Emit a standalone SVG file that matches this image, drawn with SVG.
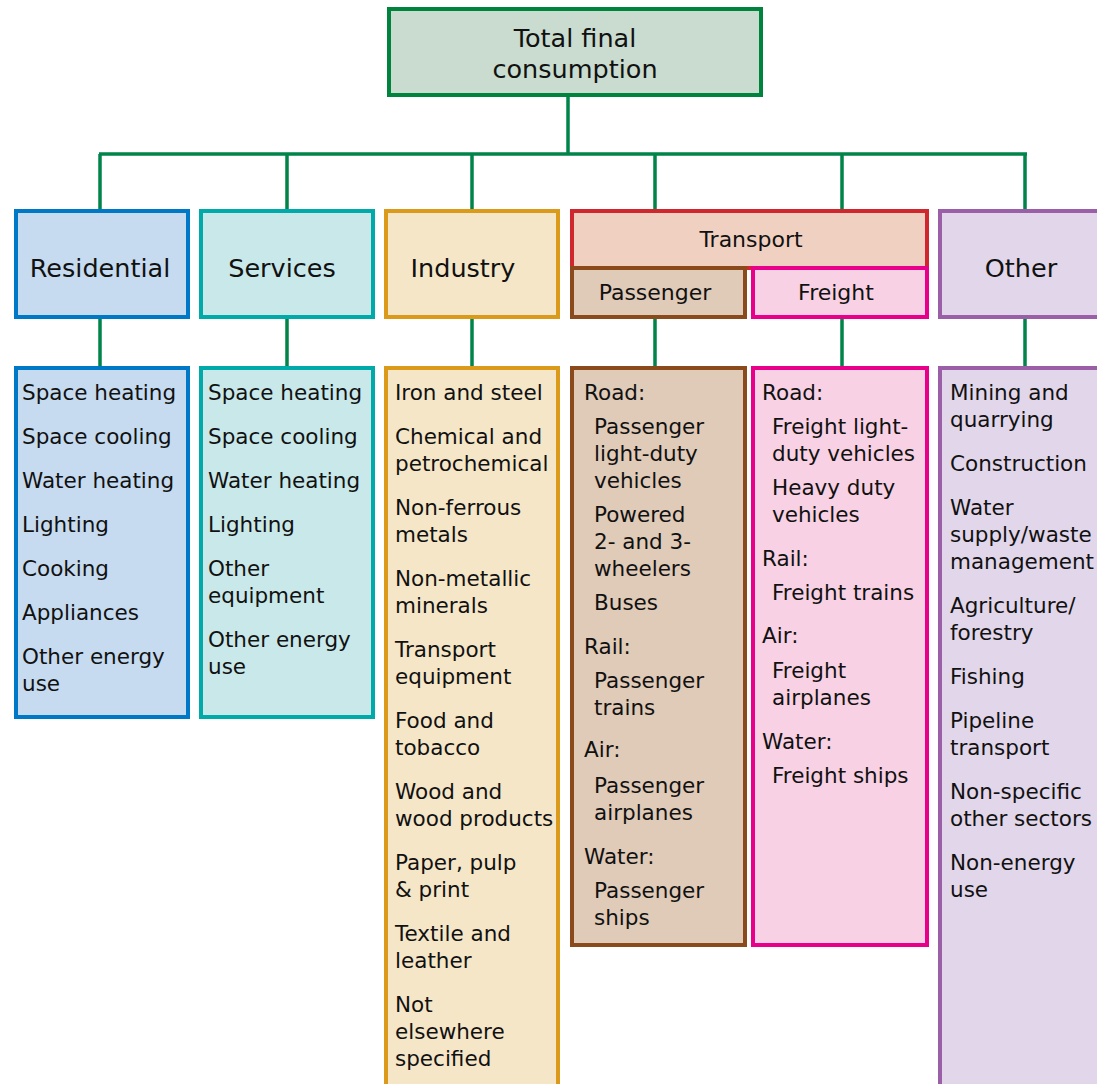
<svg xmlns="http://www.w3.org/2000/svg" width="1097" height="1084" viewBox="0 0 1097 1084">
<style>
text{font-family:"DejaVu Sans","Noto Sans",sans-serif;fill:#111;}
.t{font-size:25.5px;text-anchor:middle;}
.s{font-size:22px;text-anchor:middle;}
.i{font-size:21.5px;}
.box{stroke-width:4;}
.conn{stroke:#00844a;stroke-width:3.5;fill:none;}
</style>
<rect width="1097" height="1084" fill="#ffffff"/>
<g id="connectors">
<path class="conn" d="M568 97V154M99 154H1027M100 154V210M287 154V210M472 154V210M655 154V210M842 154V210M1025 154V210"/>
<path class="conn" d="M100 319V367M287 319V367M472 319V367M655 319V367M842 319V367M1025 319V367"/>
</g>
<g id="total">
<rect class="box" x="389" y="9" width="372" height="86" fill="#c9dccf" stroke="#00843d"/>
<text class="t" x="575" y="47">Total final</text>
<text class="t" x="575" y="78">consumption</text>
</g>
<g id="residential">
<rect class="box" x="16" y="211" width="172" height="106" fill="#c6dbf0" stroke="#0078c8"/>
<text class="t" x="100" y="277">Residential</text>
</g>
<g id="services">
<rect class="box" x="201" y="211" width="172" height="106" fill="#c9e8ea" stroke="#00aaa9"/>
<text class="t" x="282" y="277">Services</text>
</g>
<g id="industry">
<rect class="box" x="386" y="211" width="172" height="106" fill="#f5e6c8" stroke="#dc9a1a"/>
<text class="t" x="463" y="277">Industry</text>
</g>
<g id="transport">
<rect class="box" x="572" y="211" width="355" height="57" fill="#f0d0c0" stroke="#d0272e"/>
<text class="s" x="751" y="247">Transport</text>
</g>
<g id="passenger">
<rect class="box" x="572" y="268" width="173" height="49" fill="#e0cab8" stroke="#8a4a1c"/>
<text class="s" x="655" y="300">Passenger</text>
</g>
<g id="freight">
<rect class="box" x="753" y="268" width="174" height="49" fill="#f8d2e4" stroke="#e8008a"/>
<text class="s" x="836" y="300">Freight</text>
</g>
<g id="other">
<rect class="box" x="940" y="211" width="200" height="106" fill="#e2d6ea" stroke="#9b5fa8"/>
<text class="t" x="1021" y="277">Other</text>
</g>
<g id="residential-items">
<rect class="box" x="16" y="368" width="172" height="349" fill="#c6dbf0" stroke="#0078c8"/>
<text class="i" x="22" y="400">Space heating</text>
<text class="i" x="22" y="444">Space cooling</text>
<text class="i" x="22" y="488">Water heating</text>
<text class="i" x="22" y="532">Lighting</text>
<text class="i" x="22" y="576">Cooking</text>
<text class="i" x="22" y="620">Appliances</text>
<text class="i" x="22" y="664">Other energy</text>
<text class="i" x="22" y="691">use</text>
</g>
<g id="services-items">
<rect class="box" x="201" y="368" width="172" height="349" fill="#c9e8ea" stroke="#00aaa9"/>
<text class="i" x="208" y="400">Space heating</text>
<text class="i" x="208" y="444">Space cooling</text>
<text class="i" x="208" y="488">Water heating</text>
<text class="i" x="208" y="532">Lighting</text>
<text class="i" x="208" y="576">Other</text>
<text class="i" x="208" y="603">equipment</text>
<text class="i" x="208" y="647">Other energy</text>
<text class="i" x="208" y="674">use</text>
</g>
<g id="industry-items">
<rect class="box" x="386" y="368" width="172" height="800" fill="#f5e6c8" stroke="#dc9a1a"/>
<text class="i" x="395" y="400">Iron and steel</text>
<text class="i" x="395" y="444">Chemical and</text>
<text class="i" x="395" y="471">petrochemical</text>
<text class="i" x="395" y="515">Non-ferrous</text>
<text class="i" x="395" y="542">metals</text>
<text class="i" x="395" y="586">Non-metallic</text>
<text class="i" x="395" y="613">minerals</text>
<text class="i" x="395" y="657">Transport</text>
<text class="i" x="395" y="684">equipment</text>
<text class="i" x="395" y="728">Food and</text>
<text class="i" x="395" y="755">tobacco</text>
<text class="i" x="395" y="799">Wood and</text>
<text class="i" x="395" y="826">wood products</text>
<text class="i" x="395" y="870">Paper, pulp</text>
<text class="i" x="395" y="897">&amp; print</text>
<text class="i" x="395" y="941">Textile and</text>
<text class="i" x="395" y="968">leather</text>
<text class="i" x="395" y="1012">Not</text>
<text class="i" x="395" y="1039">elsewhere</text>
<text class="i" x="395" y="1066">specified</text>
</g>
<g id="passenger-items">
<rect class="box" x="572" y="368" width="173" height="577" fill="#e0cab8" stroke="#8a4a1c"/>
<text class="i" x="584" y="400">Road:</text>
<text class="i" x="594" y="434">Passenger</text>
<text class="i" x="594" y="461">light-duty</text>
<text class="i" x="594" y="488">vehicles</text>
<text class="i" x="594" y="522">Powered</text>
<text class="i" x="594" y="549">2- and 3-</text>
<text class="i" x="594" y="576">wheelers</text>
<text class="i" x="594" y="610">Buses</text>
<text class="i" x="584" y="654">Rail:</text>
<text class="i" x="594" y="688">Passenger</text>
<text class="i" x="594" y="715">trains</text>
<text class="i" x="584" y="757">Air:</text>
<text class="i" x="594" y="793">Passenger</text>
<text class="i" x="594" y="820">airplanes</text>
<text class="i" x="584" y="864">Water:</text>
<text class="i" x="594" y="898">Passenger</text>
<text class="i" x="594" y="925">ships</text>
</g>
<g id="freight-items">
<rect class="box" x="753" y="368" width="174" height="577" fill="#f8d2e4" stroke="#e8008a"/>
<text class="i" x="762" y="400">Road:</text>
<text class="i" x="772" y="434">Freight light-</text>
<text class="i" x="772" y="461">duty vehicles</text>
<text class="i" x="772" y="495">Heavy duty</text>
<text class="i" x="772" y="522">vehicles</text>
<text class="i" x="762" y="566">Rail:</text>
<text class="i" x="772" y="600">Freight trains</text>
<text class="i" x="762" y="643">Air:</text>
<text class="i" x="772" y="678">Freight</text>
<text class="i" x="772" y="705">airplanes</text>
<text class="i" x="762" y="749">Water:</text>
<text class="i" x="772" y="783">Freight ships</text>
</g>
<g id="other-items">
<rect class="box" x="940" y="368" width="200" height="800" fill="#e2d6ea" stroke="#9b5fa8"/>
<text class="i" x="950" y="400">Mining and</text>
<text class="i" x="950" y="427">quarrying</text>
<text class="i" x="950" y="471">Construction</text>
<text class="i" x="950" y="515">Water</text>
<text class="i" x="950" y="542">supply/waste</text>
<text class="i" x="950" y="569">management</text>
<text class="i" x="950" y="613">Agriculture/</text>
<text class="i" x="950" y="640">forestry</text>
<text class="i" x="950" y="684">Fishing</text>
<text class="i" x="950" y="728">Pipeline</text>
<text class="i" x="950" y="755">transport</text>
<text class="i" x="950" y="799">Non-specific</text>
<text class="i" x="950" y="826">other sectors</text>
<text class="i" x="950" y="870">Non-energy</text>
<text class="i" x="950" y="897">use</text>
</g>
</svg>
